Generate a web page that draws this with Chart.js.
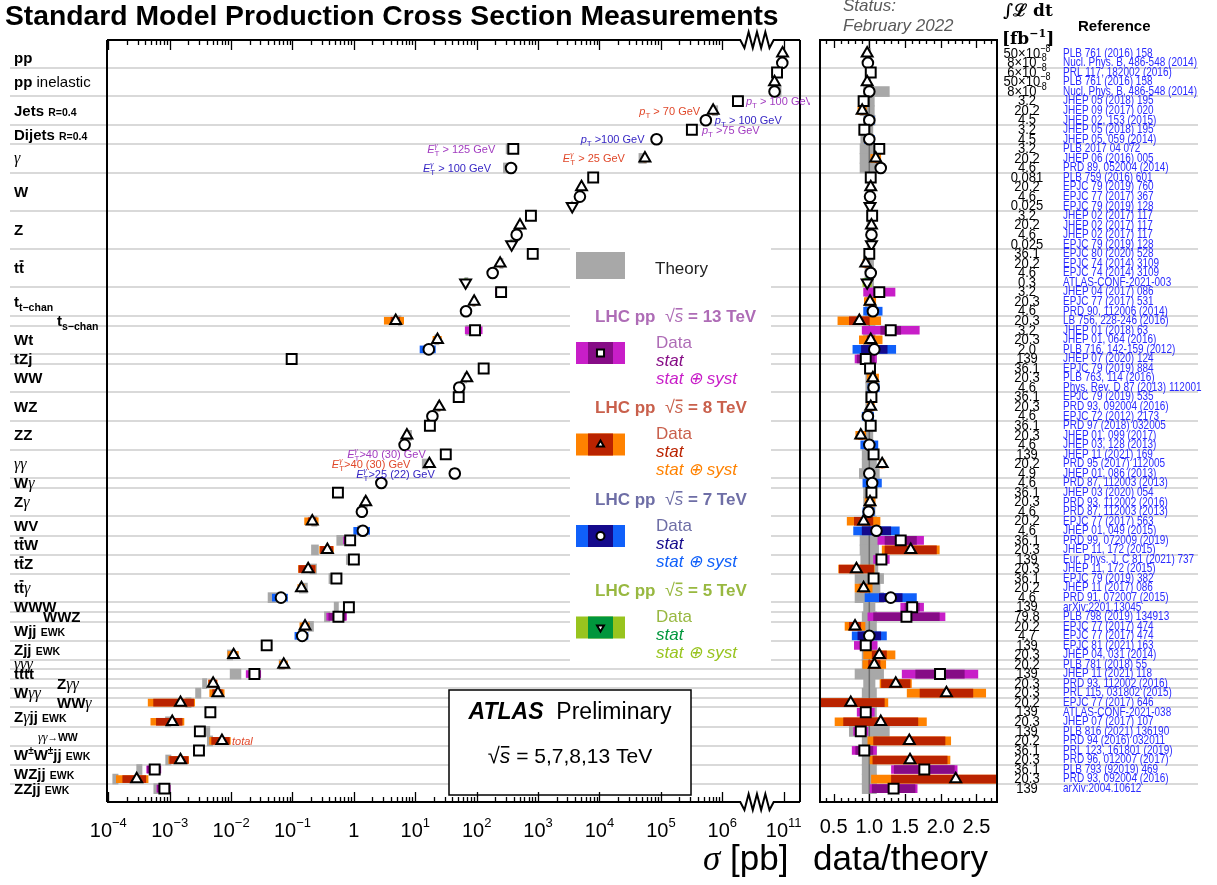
<!DOCTYPE html>
<html>
<head>
<meta charset="utf-8">
<title>Standard Model Production Cross Section Measurements</title>
<script src="https://cdn.jsdelivr.net/npm/chart.js@4.4.1/dist/chart.umd.min.js"></script>
<style>
  body { margin: 0; background: #fff; width: 1217px; height: 885px; position: relative; overflow: hidden; font-family: "Liberation Sans", Arial, sans-serif; }
  canvas { position: absolute; top: 0; }
  #mainCanvas { left: 0; }
  #ratioCanvas { left: 810px; }
  .txt { position: absolute; white-space: nowrap; }
  #title { left: 5px; top: -2px; font: bold 28.3px/34px "Liberation Sans", Arial, sans-serif; }
  #status { left: 843px; top: -4px; font: italic 17px/20px "Liberation Sans", Arial, sans-serif; color: #5a5a5a; }
  #lumiHead { left: 1002px; top: -2px; font: bold 17px/24px "DejaVu Serif", serif; text-align: center; }
  #refHead { left: 1078px; top: 16px; font: bold 15px/20px "Liberation Sans", Arial, sans-serif; }
  #xTitle { left: 703px; top: 837px; font: 35px/42px "Liberation Sans", Arial, sans-serif; }
  #xTitle i { font-family: "Liberation Serif", serif; }
  #rTitle { left: 813px; top: 837px; font: 35px/42px "Liberation Sans", Arial, sans-serif; }
</style>
</head>
<body>
<canvas id="mainCanvas" width="810" height="885"></canvas>
<canvas id="ratioCanvas" width="407" height="885"></canvas>
<div class="txt" id="title">Standard Model Production Cross Section Measurements</div>
<div class="txt" id="status">Status:<br>February 2022</div>
<div class="txt" id="lumiHead">∫ℒ dt<br>[fb<sup style="font-size:11px">−1</sup>]</div>
<div class="txt" id="refHead">Reference</div>
<div class="txt" id="xTitle"><i>σ</i> [pb]</div>
<div class="txt" id="rTitle">data/theory</div>
<script>
// one entry per measurement row, top to bottom
const energies = [8, 7, 13, 8, 7, 13, 8, 7, 13, 7, 13, 8, 7, 13, 8, 7, 5, 13, 8, 7, 5, 13, 8, 7, 5,
  13, 8, 7, 8, 13, 8, 7, 13, 13, 8, 7, 13, 8, 7, 13, 8, 7, 13, 8, 7, 7, 13, 8, 7, 8, 7,
  13, 8, 13, 8, 13, 8, 7, 13, 13, 8, 7, 13, 8, 8, 13, 8, 8, 8, 13, 8, 13, 8, 13, 8, 13, 8, 13];

// measured cross sections [pb]
const xsecPb = [9.6e10, 9.5e10, 7.8e10, 7.1e10, 7.1e10,
  1.8e6, 7.1e5, 5.4e5, 3.2e5, 8.5e4,
  395, 5.5e4, 363,
  7.9e3, 5.1e3, 4.8e3, 3.6e3,
  765, 507, 448, 371,
  819, 241, 182, 66,
  250, 91, 67, 4.8,
  94, 23, 16.6, 0.097,
  130, 69, 52, 51, 24.6, 19, 17.3, 7.3, 6.7,
  31.4, 17, 44, 2.8, 0.55, 1.56, 1.35, 0.21, 1.4,
  0.87, 0.37, 1.0, 0.18, 0.52, 0.14, 0.065,
  0.83, 0.56, 0.16, 0.144, 0.038, 0.011, 0.072, 0.024,
  0.0051, 0.0061, 0.0015, 0.0046, 0.0011, 0.0031, 0.0071, 0.0030, 0.0015, 0.00057, 0.00029, 0.00082];

// data / theory
const ratio = [0.97, 0.98, 1.02, 0.97, 1.00,
  0.92, 0.90, 1.00, 0.93, 1.00,
  1.14, 1.09, 1.16,
  1.02, 1.02, 1.01, 1.01,
  1.04, 1.03, 1.03, 1.03,
  1.00, 0.95, 1.02, 0.97,
  1.14, 1.01, 1.05, 0.86,
  1.30, 1.02, 1.07, 0.95,
  1.01, 1.05, 1.06, 1.03, 1.02, 0.98, 1.02, 0.88, 1.00,
  1.06, 1.18, 1.00, 1.04, 1.03, 1.01, 0.99, 0.92, 1.10,
  1.44, 1.58, 1.17, 0.82, 1.06, 0.92, 1.30,
  1.60, 1.52, 0.80, 1.00, 0.95, 1.14, 1.07, 1.99,
  1.37, 2.08, 0.74, 0.95, 1.16, 0.88, 1.56, 0.93, 1.57, 1.77, 2.21, 1.34];

// uncertainties on the ratio: stat only, and stat+syst
const statErr = [0.005, 0.005, 0.005, 0.005, 0.005,
  0.01, 0.01, 0.01, 0.01, 0.01,
  0.01, 0.01, 0.01,
  0.005, 0.005, 0.005, 0.01,
  0.005, 0.005, 0.005, 0.01,
  0.01, 0.01, 0.01, 0.03,
  0.05, 0.02, 0.05, 0.14,
  0.14, 0.05, 0.18, 0.12,
  0.02, 0.02, 0.03, 0.02, 0.02, 0.04, 0.03, 0.03, 0.06,
  0.02, 0.01, 0.02, 0.05, 0.02, 0.03, 0.04, 0.13, 0.20,
  0.22, 0.36, 0.05, 0.24, 0.02, 0.05, 0.16,
  0.10, 0.46, 0.08, 0.16, 0.08, 0.10, 0.08, 0.34,
  0.20, 0.37, 0.47, 0.05, 0.52, 0.06, 0.50, 0.12, 0.52, 0.42, 0.90, 0.30];

const totErr = [0.01, 0.015, 0.03, 0.015, 0.02,
  0.04, 0.06, 0.07, 0.05, 0.07,
  0.05, 0.07, 0.05,
  0.03, 0.03, 0.03, 0.03,
  0.03, 0.03, 0.03, 0.03,
  0.04, 0.04, 0.04, 0.06,
  0.22, 0.08, 0.13, 0.30,
  0.40, 0.16, 0.30, 0.15,
  0.06, 0.08, 0.08, 0.05, 0.05, 0.08, 0.05, 0.07, 0.12,
  0.06, 0.04, 0.06, 0.13, 0.05, 0.07, 0.08, 0.23, 0.32,
  0.32, 0.40, 0.11, 0.25, 0.06, 0.12, 0.36,
  0.16, 0.54, 0.14, 0.24, 0.16, 0.22, 0.16, 0.53,
  0.22, 0.55, 0.52, 0.12, 0.64, 0.10, 0.58, 0.17, 0.56, 0.46, 1.18, 0.33];

// relative theory uncertainty, down / up
const theoryDn = [0.02, 0.02, 0.03, 0.02, 0.08,
  0.13, 0.13, 0.08, 0.12, 0.12,
  0.13, 0.13, 0.13,
  0.03, 0.03, 0.03, 0.03,
  0.03, 0.03, 0.03, 0.03,
  0.06, 0.06, 0.06, 0.06,
  0.05, 0.05, 0.05, 0.05,
  0.08, 0.08, 0.08, 0.10,
  0.05, 0.05, 0.05, 0.05, 0.05, 0.05, 0.05, 0.05, 0.05,
  0.10, 0.10, 0.14, 0.08, 0.08, 0.08, 0.08, 0.10, 0.10,
  0.13, 0.13, 0.12, 0.12, 0.20, 0.15, 0.20,
  0.08, 0.10, 0.10, 0.10, 0.10, 0.10, 0.10, 0.20,
  0.08, 0.10, 0.10, 0.10, 0.10, 0.28, 0.10, 0.10, 0.10, 0.10, 0.10, 0.10];

const theoryUp = [0.02, 0.02, 0.03, 0.02, 0.28,
  0.07, 0.07, 0.08, 0.05, 0.05,
  0.15, 0.15, 0.15,
  0.03, 0.03, 0.03, 0.03,
  0.03, 0.03, 0.03, 0.03,
  0.06, 0.06, 0.06, 0.06,
  0.05, 0.05, 0.05, 0.05,
  0.08, 0.08, 0.08, 0.10,
  0.05, 0.05, 0.05, 0.05, 0.05, 0.05, 0.05, 0.05, 0.05,
  0.10, 0.10, 0.14, 0.08, 0.08, 0.08, 0.08, 0.10, 0.10,
  0.13, 0.13, 0.12, 0.12, 0.20, 0.15, 0.20,
  0.08, 0.10, 0.10, 0.10, 0.10, 0.10, 0.10, 0.20,
  0.08, 0.10, 0.10, 0.10, 0.10, 0.28, 0.10, 0.10, 0.10, 0.10, 0.10, 0.10];

// integrated luminosity [fb^-1]
const lumi = ['50×10^−8', '8×10^−8', '6×10^−8', '50×10^−8', '8×10^−8',
  '3.2', '20.2', '4.5', '3.2', '4.5',
  '3.2', '20.2', '4.6',
  '0.081', '20.2', '4.6', '0.025',
  '3.2', '20.2', '4.6', '0.025',
  '36.1', '20.2', '4.6', '0.3',
  '3.2', '20.3', '4.6', '20.3',
  '3.2', '20.3', '2.0', '139',
  '36.1', '20.3', '4.6', '36.1', '20.3', '4.6', '36.1', '20.3', '4.6',
  '139', '20.2', '4.9', '4.6', '36.1', '20.3', '4.6', '20.2', '4.6',
  '36.1', '20.3', '139', '20.3', '36.1', '20.2', '4.6',
  '139', '79.8', '20.2', '4.7', '139', '20.3', '20.2', '139',
  '20.3', '20.3', '20.2', '139', '20.3', '139', '20.2', '36.1', '20.3', '36.1', '20.3', '139'];

const references = ['PLB 761 (2016) 158', 'Nucl. Phys. B, 486-548 (2014)', 'PRL 117, 182002 (2016)',
  'PLB 761 (2016) 158', 'Nucl. Phys. B, 486-548 (2014)',
  'JHEP 05 (2018) 195', 'JHEP 09 (2017) 020', 'JHEP 02, 153 (2015)', 'JHEP 05 (2018) 195', 'JHEP 05, 059 (2014)',
  'PLB 2017 04 072', 'JHEP 06 (2016) 005', 'PRD 89, 052004 (2014)',
  'PLB 759 (2016) 601', 'EPJC 79 (2019) 760', 'EPJC 77 (2017) 367', 'EPJC 79 (2019) 128',
  'JHEP 02 (2017) 117', 'JHEP 02 (2017) 117', 'JHEP 02 (2017) 117', 'EPJC 79 (2019) 128',
  'EPJC 80 (2020) 528', 'EPJC 74 (2014) 3109', 'EPJC 74 (2014) 3109', 'ATLAS-CONF-2021-003',
  'JHEP 04 (2017) 086', 'EPJC 77 (2017) 531', 'PRD 90, 112006 (2014)', 'LB 756, 228-246 (2016)',
  'JHEP 01 (2018) 63', 'JHEP 01, 064 (2016)', 'PLB 716, 142-159 (2012)', 'JHEP 07 (2020) 124',
  'EPJC 79 (2019) 884', 'PLB 763, 114 (2016)', 'Phys. Rev. D 87 (2013) 112001',
  'EPJC 79 (2019) 535', 'PRD 93, 092004 (2016)', 'EPJC 72 (2012) 2173',
  'PRD 97 (2018) 032005', 'JHEP 01, 099 (2017)', 'JHEP 03, 128 (2013)',
  'JHEP 11 (2021) 169', 'PRD 95 (2017) 112005', 'JHEP 01, 086 (2013)', 'PRD 87, 112003 (2013)',
  'JHEP 03 (2020) 054', 'PRD 93, 112002 (2016)', 'PRD 87, 112003 (2013)',
  'EPJC 77 (2017) 563', 'JHEP 01, 049 (2015)',
  'PRD 99, 072009 (2019)', 'JHEP 11, 172 (2015)', 'Eur. Phys. J. C 81 (2021) 737', 'JHEP 11, 172 (2015)',
  'EPJC 79 (2019) 382', 'JHEP 11 (2017) 086', 'PRD 91, 072007 (2015)',
  'arXiv:2201.13045', 'PLB 798 (2019) 134913', 'EPJC 77 (2017) 474', 'EPJC 77 (2017) 474',
  'EPJC 81 (2021) 163', 'JHEP 04, 031 (2014)', 'PLB 781 (2018) 55', 'JHEP 11 (2021) 118',
  'PRD 93, 112002 (2016)', 'PRL 115, 031802 (2015)', 'EPJC 77 (2017) 646',
  'ATLAS-CONF-2021-038', 'JHEP 07 (2017) 107', 'PLB 816 (2021) 136190', 'PRD 94 (2016) 032011',
  'PRL 123, 161801 (2019)', 'PRD 96, 012007 (2017)', 'PLB 793 (92019) 469', 'PRD 93, 092004 (2016)',
  'arXiv:2004.10612'];

// process labels, each spanning a block of rows
const processLabels = [
  { rows: [1, 2], parts: [['pp', 'b']] },
  { rows: [3, 5], parts: [['pp', 'b'], [' inelastic', 'n']] },
  { rows: [6, 8], parts: [['Jets ', 'b'], ['R=0.4', 's']] },
  { rows: [9, 10], parts: [['Dijets ', 'b'], ['R=0.4', 's']] },
  { rows: [11, 13], parts: [['γ', 'g']] },
  { rows: [14, 17], parts: [['W', 'b']] },
  { rows: [18, 21], parts: [['Z', 'b']] },
  { rows: [22, 25], parts: [['t', 'b'], ['t', 'bar']] },
  { rows: [26, 28], parts: [['t', 'b'], ['t−chan', 'sub']] },
  { rows: [29, 29], parts: [['t', 'b'], ['s−chan', 'sub']], indent: 43 },
  { rows: [30, 32], parts: [['Wt', 'b']] },
  { rows: [33, 33], parts: [['tZj', 'b']] },
  { rows: [34, 36], parts: [['WW', 'b']] },
  { rows: [37, 39], parts: [['WZ', 'b']] },
  { rows: [40, 42], parts: [['ZZ', 'b']] },
  { rows: [43, 45], parts: [['γγ', 'g']] },
  { rows: [46, 46], parts: [['W', 'b'], ['γ', 'g']] },
  { rows: [47, 49], parts: [['Z', 'b'], ['γ', 'g']] },
  { rows: [50, 51], parts: [['WV', 'b']] },
  { rows: [52, 53], parts: [['t', 'b'], ['t', 'bar'], ['W', 'b']] },
  { rows: [54, 55], parts: [['t', 'b'], ['t', 'bar'], ['Z', 'b']] },
  { rows: [56, 58], parts: [['t', 'b'], ['t', 'bar'], ['γ', 'g']] },
  { rows: [59, 59], parts: [['WWW', 'b']] },
  { rows: [60, 60], parts: [['WWZ', 'b']], indent: 29 },
  { rows: [61, 62], parts: [['Wjj ', 'b'], ['EWK', 's']] },
  { rows: [63, 64], parts: [['Zjj ', 'b'], ['EWK', 's']] },
  { rows: [65, 65], parts: [['γγγ', 'g']] },
  { rows: [66, 66], parts: [['tttt', 'b']] },
  { rows: [67, 67], parts: [['Z', 'b'], ['γγ', 'g']], indent: 43 },
  { rows: [68, 68], parts: [['W', 'b'], ['γγ', 'g']] },
  { rows: [69, 69], parts: [['WW', 'b'], ['γ', 'g']], indent: 43 },
  { rows: [70, 71], parts: [['Z', 'b'], ['γ', 'g'], ['jj ', 'b'], ['EWK', 's']] },
  { rows: [72, 73], parts: [['γγ', 'gs'], ['→WW', 's']], indent: 24 },
  { rows: [74, 75], parts: [['W', 'b'], ['±', 'sup'], ['W', 'b'], ['±', 'sup'], ['jj ', 'b'], ['EWK', 's']] },
  { rows: [76, 77], parts: [['WZjj ', 'b'], ['EWK', 's']] },
  { rows: [78, 78], parts: [['ZZjj ', 'b'], ['EWK', 's']] }
];

// phase-space notes next to some points
const cutNotes = [
  { row: 6, side: 'right', gap: 8, kind: 'pT', text: ' > 100 GeV' },
  { row: 7, side: 'left', gap: 13, kind: 'pT', text: ' > 70 GeV' },
  { row: 8, side: 'right', gap: 9, kind: 'pT', text: ' > 100 GeV' },
  { row: 9, side: 'right', gap: 10, kind: 'pT', text: ' >75 GeV' },
  { row: 10, side: 'left', gap: 12, kind: 'pT', text: ' >100 GeV' },
  { row: 11, side: 'left', gap: 18, kind: 'ET', text: ' > 125 GeV' },
  { row: 12, side: 'left', gap: 20, kind: 'ET', text: ' > 25 GeV' },
  { row: 13, side: 'left', gap: 20, kind: 'ET', text: ' > 100 GeV' },
  { row: 43, side: 'left', gap: 20, kind: 'ET', text: '>40 (30) GeV' },
  { row: 44, side: 'left', gap: 19, kind: 'ET', text: '>40 (30) GeV' },
  { row: 45, side: 'left', gap: 20, kind: 'ET', text: '>25 (22) GeV' },
  { row: 73, side: 'right', gap: 10, kind: 'plain', text: 'total' }
];

const xTickPowers = [-4, -3, -2, -1, 0, 1, 2, 3, 4, 5, 6, 11];
const ratioTickLabels = [0.5, 1.0, 1.5, 2.0, 2.5];
const legendEnergies = [13, 8, 7, 5];

const energyStyle = {
  13: { syst: '#C81EC8', stat: '#860C86', text: '#AE6CB6', shape: 'rect', radius: 7, rot: 0 },
  8: { syst: '#FF8200', stat: '#BA2300', text: '#C9604C', shape: 'triangle', radius: 6.3, rot: 0 },
  7: { syst: '#1060FA', stat: '#140A8C', text: '#6E6EA6', shape: 'circle', radius: 5.3, rot: 0 },
  5: { syst: '#98C41E', stat: '#00963C', text: '#98B840', shape: 'triangle', radius: 6.3, rot: 180 }
};
const noteColor = { 13: '#A23CC0', 8: '#E0482A', 7: '#3626C4' };
const GRAY = '#A8A8A8';
const SANS = '"Liberation Sans", Arial, sans-serif';
const SERIF = '"Liberation Serif", "DejaVu Serif", serif';

const rowIdx = energies.map((e, i) => i);
const rowY = i => i + 1;
// the sigma axis jumps from 10^6 straight to 10^11
const toAxis = s => { const l = Math.log10(s); return l > 8.5 ? l - 4 : l; };
const theoryPb = i => xsecPb[i] / ratio[i];

function drawRich(ctx, x, y, parts, align) {
  let width = 0;
  parts.forEach(p => { ctx.font = p.font; if (!p.hold) width += ctx.measureText(p.text).width; });
  let cx = align === 'right' ? x - width : align === 'center' ? x - width / 2 : x;
  parts.forEach(p => {
    ctx.font = p.font;
    ctx.fillStyle = p.color || '#000';
    ctx.fillText(p.text, cx, y + (p.dy || 0));
    const w = ctx.measureText(p.text).width;
    if (p.over !== undefined) ctx.fillRect(cx + w * 0.1, y + p.over, w * 0.8, 1.6);
    if (!p.hold) cx += w;
  });
}

// text squeezed into the narrow rows is drawn a little taller than wide
function drawTall(ctx, x, y, stretch, fn) {
  ctx.save();
  ctx.translate(x, y);
  ctx.scale(1, stretch);
  fn();
  ctx.restore();
}

const labelFonts = {
  b: { font: 'bold 15px ' + SANS },
  n: { font: '15px ' + SANS },
  s: { font: 'bold 10.5px ' + SANS },
  sub: { font: 'bold 10.5px ' + SANS, dy: 4 },
  sup: { font: 'bold 10px ' + SANS, dy: -6 },
  g: { font: 'italic 16px ' + SERIF },
  gs: { font: 'italic 12px ' + SERIF },
  bar: { font: 'bold 15px ' + SANS, over: -13 }
};

function drawSeparators(ctx, yScale, x0, x1) {
  ctx.strokeStyle = '#d9d9d9';
  ctx.lineWidth = 2;
  processLabels.slice(0, -1).forEach(g => {
    const y = Math.round(yScale.getPixelForValue(g.rows[1] + 0.5));
    ctx.beginPath(); ctx.moveTo(x0, y); ctx.lineTo(x1, y); ctx.stroke();
  });
}

function powerLabel(p) {
  if (p === 0) return [{ text: '1', font: '20px ' + SANS }];
  return [{ text: '10', font: '20px ' + SANS }, { text: p < 0 ? '−' + (-p) : String(p), font: '13px ' + SANS, dy: -8 }];
}

function drawMarker(ctx, e, x, y, r) {
  const st = energyStyle[e];
  ctx.fillStyle = '#fff'; ctx.strokeStyle = '#000'; ctx.lineWidth = 2;
  Chart.helpers.drawPoint(ctx, { pointStyle: st.shape, rotation: st.rot, radius: r, borderWidth: 2 }, x, y);
}

const legendBox = { left: 570, top: 236, right: 771, bottom: 668 };
const atlasBox = { left: 449, top: 690, right: 691, bottom: 795 };

const mainDecor = {
  id: 'mainDecor',
  beforeDatasetsDraw(chart) {
    const { ctx, scales: { y } } = chart;
    ctx.save();
    drawSeparators(ctx, y, 10, chart.width);
    ctx.fillStyle = '#fff';
    ctx.fillRect(legendBox.left, legendBox.top, legendBox.right - legendBox.left, legendBox.bottom - legendBox.top);
    ctx.fillRect(atlasBox.left, atlasBox.top, atlasBox.right - atlasBox.left, atlasBox.bottom - atlasBox.top);
    ctx.restore();
  },
  afterDatasetsDraw(chart) {
    const { ctx, chartArea: a, scales: { x, y } } = chart;
    ctx.save();
    // frame with the axis break
    const zz0 = x.getPixelForValue(6) + 18, zz1 = x.getPixelForValue(7) - 10;
    ctx.strokeStyle = '#000'; ctx.lineWidth = 2;
    [a.top, a.bottom].forEach(yy => {
      ctx.beginPath();
      ctx.moveTo(a.left, yy); ctx.lineTo(zz0, yy);
      const n = 8, step = (zz1 - zz0) / n;
      for (let k = 1; k < n; k++) ctx.lineTo(zz0 + k * step, yy + (k % 2 ? 8 : -8));
      ctx.lineTo(zz1, yy); ctx.lineTo(a.right, yy);
      ctx.stroke();
    });
    ctx.beginPath();
    ctx.moveTo(a.left, a.top); ctx.lineTo(a.left, a.bottom);
    ctx.moveTo(a.right, a.top); ctx.lineTo(a.right, a.bottom);
    ctx.stroke();
    // inward log ticks
    ctx.lineWidth = 1.3;
    const tick = (v, len) => {
      const px = Math.round(x.getPixelForValue(v)) + 0.5;
      ctx.beginPath();
      ctx.moveTo(px, a.top); ctx.lineTo(px, a.top + len);
      ctx.moveTo(px, a.bottom); ctx.lineTo(px, a.bottom - len);
      ctx.stroke();
    };
    xTickPowers.forEach(p => {
      const v = toAxis(Math.pow(10, p));
      tick(v, 10);
      if (p < 6) for (let m = 2; m <= 9; m++) tick(v + Math.log10(m), 5);
    });
    ctx.textBaseline = 'middle';
    xTickPowers.forEach(p => drawRich(ctx, x.getPixelForValue(toAxis(Math.pow(10, p))), a.bottom + 29, powerLabel(p), 'center'));

    // process names
    ctx.textBaseline = 'alphabetic';
    processLabels.forEach(g => {
      const yc = y.getPixelForValue((g.rows[0] + g.rows[1]) / 2) + 5;
      const parts = g.parts.map(([t, k]) => Object.assign({ text: t }, labelFonts[k]));
      drawRich(ctx, 14 + (g.indent || 0), yc, parts, 'left');
    });

    // phase-space notes
    cutNotes.forEach(n => {
      const i = n.row - 1, e = energies[i];
      const col = noteColor[e];
      const px = x.getPixelForValue(toAxis(xsecPb[i]));
      const py = y.getPixelForValue(rowY(i)) + 4;
      let parts;
      if (n.kind === 'pT') parts = [{ text: 'p', font: 'italic 11px ' + SANS, color: col }, { text: 'T', font: '8px ' + SANS, dy: 3, color: col }, { text: n.text, font: '11px ' + SANS, color: col }];
      else if (n.kind === 'ET') parts = [{ text: 'E', font: 'italic 11px ' + SANS, color: col }, { text: 'γ', font: 'italic 8px ' + SERIF, dy: -5, color: col, hold: true }, { text: 'T', font: '8px ' + SANS, dy: 3, color: col }, { text: n.text, font: '11px ' + SANS, color: col }];
      else parts = [{ text: n.text, font: 'italic 11px ' + SANS, color: col }];
      drawRich(ctx, n.side === 'right' ? px + n.gap : px - n.gap, py, parts, n.side === 'right' ? 'left' : 'right');
    });

    // legend
    ctx.textBaseline = 'middle';
    ctx.fillStyle = GRAY;
    ctx.fillRect(576, 252, 49, 27);
    ctx.fillStyle = '#222'; ctx.font = '17px ' + SANS;
    ctx.fillText('Theory', 655, 269);
    legendEnergies.forEach((e, k) => {
      const st = energyStyle[e];
      const hy = 317 + k * 91.5;
      drawRich(ctx, 595, hy, [
        { text: 'LHC pp  ', font: 'bold 17px ' + SANS, color: st.text },
        { text: '√', font: '18px ' + SANS, color: st.text },
        { text: 's', font: 'italic 17px ' + SANS, color: st.text, over: -9 },
        { text: ' = ' + e + ' TeV', font: 'bold 17px ' + SANS, color: st.text }
      ], 'left');
      ctx.fillStyle = st.syst; ctx.fillRect(576, hy + 25, 49, 22);
      ctx.fillStyle = st.stat; ctx.fillRect(588, hy + 25, 25, 22);
      drawMarker(ctx, e, 600.5, hy + 36, st.shape === 'rect' ? 5 : 4);
      ctx.font = '17px ' + SANS; ctx.fillStyle = st.text; ctx.fillText('Data', 656, hy + 26);
      ctx.font = 'italic 17px ' + SANS; ctx.fillStyle = st.stat; ctx.fillText('stat', 656, hy + 44);
      ctx.fillStyle = st.syst; ctx.fillText('stat ⊕ syst', 656, hy + 62);
    });

    // experiment box
    ctx.strokeStyle = '#000'; ctx.lineWidth = 1.5;
    ctx.strokeRect(atlasBox.left, atlasBox.top, atlasBox.right - atlasBox.left, atlasBox.bottom - atlasBox.top);
    const cx = (atlasBox.left + atlasBox.right) / 2;
    drawRich(ctx, cx, atlasBox.top + 23, [
      { text: 'ATLAS', font: 'bold italic 23px ' + SANS },
      { text: '  Preliminary', font: '23px ' + SANS }
    ], 'center');
    drawRich(ctx, cx, atlasBox.top + 67, [
      { text: '√', font: '22px ' + SANS },
      { text: 's', font: 'italic 21px ' + SANS, over: -11 },
      { text: ' = 5,7,8,13 TeV', font: '21px ' + SANS }
    ], 'center');
    ctx.restore();
  }
};

const ratioDecor = {
  id: 'ratioDecor',
  beforeDatasetsDraw(chart) {
    const { ctx, scales: { y } } = chart;
    ctx.save();
    drawSeparators(ctx, y, 0, 388);
    ctx.restore();
  },
  afterDatasetsDraw(chart) {
    const { ctx, chartArea: a, scales: { x, y } } = chart;
    ctx.save();
    ctx.strokeStyle = '#000'; ctx.lineWidth = 2;
    ctx.strokeRect(a.left, a.top, a.right - a.left, a.bottom - a.top);
    ctx.lineWidth = 1.3;
    for (let t = 4; t <= 27; t++) {
      const px = Math.round(x.getPixelForValue(t / 10)) + 0.5;
      const len = t % 5 === 0 ? 8 : 4;
      ctx.beginPath();
      ctx.moveTo(px, a.top); ctx.lineTo(px, a.top + len);
      ctx.moveTo(px, a.bottom); ctx.lineTo(px, a.bottom - len);
      ctx.stroke();
    }
    ctx.textBaseline = 'middle'; ctx.textAlign = 'center';
    ctx.fillStyle = '#000'; ctx.font = '20px ' + SANS;
    ratioTickLabels.forEach(v => ctx.fillText(v.toFixed(1), x.getPixelForValue(v), a.bottom + 25));
    // luminosity and reference columns
    ctx.textAlign = 'left';
    rowIdx.forEach(i => {
      const py = y.getPixelForValue(rowY(i));
      const [base, exp] = lumi[i].split('^');
      const parts = [{ text: base, font: '13px ' + SANS }];
      if (exp) parts.push({ text: exp, font: '9px ' + SANS, dy: -4 });
      drawTall(ctx, a.right + 30, py, 1.18, () => drawRich(ctx, 0, 0, parts, 'center'));
      drawTall(ctx, a.right + 66, py, 1.22, () => {
        ctx.font = '10px ' + SANS; ctx.fillStyle = '#2b2bff';
        ctx.fillText(references[i], 0, 0);
      });
    });
    ctx.restore();
  }
};

function barSet(label, values, colors, thickness, order) {
  return { type: 'bar', label, indexAxis: 'y', data: values, backgroundColor: colors,
    barThickness: thickness, grouped: false, borderWidth: 0, order };
}
function markerSet(values) {
  return { type: 'scatter', label: 'data', data: values, order: 1,
    pointStyle: rowIdx.map(i => energyStyle[energies[i]].shape),
    pointRadius: rowIdx.map(i => energyStyle[energies[i]].radius),
    pointRotation: rowIdx.map(i => energyStyle[energies[i]].rot),
    pointBackgroundColor: '#fff', pointBorderColor: '#000', pointBorderWidth: 2 };
}
const systColors = rowIdx.map(i => energyStyle[energies[i]].syst);
const statColors = rowIdx.map(i => energyStyle[energies[i]].stat);
const commonOptions = (padding, xmin, xmax) => ({
  responsive: false, animation: false, events: [],
  layout: { padding },
  scales: {
    x: { type: 'linear', min: xmin, max: xmax, display: false },
    y: { type: 'linear', min: -0.4, max: 79.4, reverse: true, display: false, offset: false }
  },
  plugins: { legend: { display: false }, tooltip: { enabled: false } }
});

// cross sections
new Chart(document.getElementById('mainCanvas'), {
  type: 'scatter',
  data: {
    datasets: [
      barSet('theory', rowIdx.map(i => ({ y: rowY(i), x: [toAxis(theoryPb(i) * (1 - theoryDn[i])), toAxis(theoryPb(i) * (1 + theoryUp[i]))] })), GRAY, 10, 4),
      barSet('stat+syst', rowIdx.map(i => ({ y: rowY(i), x: [toAxis(xsecPb[i] * (1 - totErr[i] / ratio[i])), toAxis(xsecPb[i] * (1 + totErr[i] / ratio[i]))] })), systColors, 7, 3),
      barSet('stat', rowIdx.map(i => ({ y: rowY(i), x: [toAxis(xsecPb[i] * (1 - statErr[i] / ratio[i])), toAxis(xsecPb[i] * (1 + statErr[i] / ratio[i]))] })), statColors, 7, 2),
      markerSet(rowIdx.map(i => ({ x: toAxis(xsecPb[i]), y: rowY(i) })))
    ]
  },
  options: commonOptions({ left: 107, right: 10, top: 40, bottom: 83 }, -4.021, 7.266),
  plugins: [mainDecor]
});

// data / theory
new Chart(document.getElementById('ratioCanvas'), {
  type: 'scatter',
  data: {
    datasets: [
      barSet('theory', rowIdx.map(i => ({ y: rowY(i), x: [1 - theoryDn[i], 1 + theoryUp[i]] })), GRAY, 10, 5),
      { type: 'line', label: 'unity', data: [{ x: 1, y: -0.4 }, { x: 1, y: 79.4 }], borderColor: '#6e6e6e', borderWidth: 1.5, pointRadius: 0, order: 4 },
      barSet('stat+syst', rowIdx.map(i => ({ y: rowY(i), x: [ratio[i] - totErr[i], ratio[i] + totErr[i]] })), systColors, 8, 3),
      barSet('stat', rowIdx.map(i => ({ y: rowY(i), x: [ratio[i] - statErr[i], ratio[i] + statErr[i]] })), statColors, 8, 2),
      markerSet(rowIdx.map(i => ({ x: ratio[i], y: rowY(i) })))
    ]
  },
  options: commonOptions({ left: 10, right: 220, top: 40, bottom: 83 }, 0.3095, 2.788),
  plugins: [ratioDecor]
});
</script>
</body>
</html>
